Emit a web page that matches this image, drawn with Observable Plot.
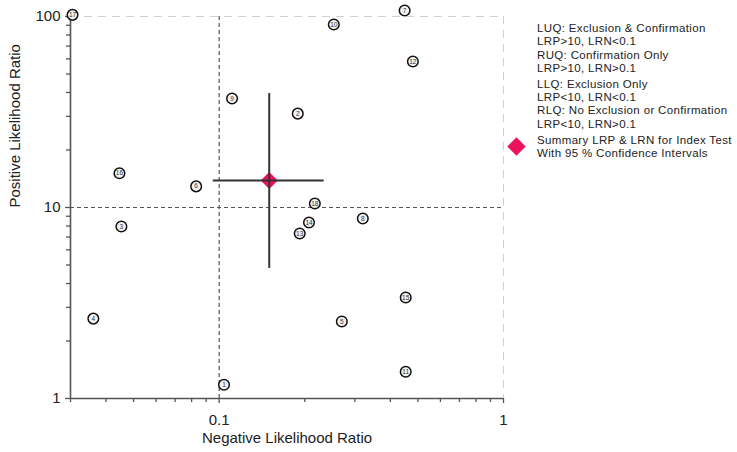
<!DOCTYPE html>
<html><head><meta charset="utf-8">
<script src="https://cdn.jsdelivr.net/npm/d3@7"></script>
<script src="https://cdn.jsdelivr.net/npm/@observablehq/plot@0.6"></script>
<style>
body{margin:0;background:#fff;font-family:"Liberation Sans",Arial,sans-serif;}
#wrap{position:relative;width:737px;height:452px;}
#legend{position:absolute;left:537px;top:22px;font-size:11.5px;line-height:13.3px;letter-spacing:0.35px;color:#222;white-space:nowrap;}
#legend .grp{margin-bottom:2.5px;}
#legend .sum{position:relative;margin-top:3px;}
#legend .dia{position:absolute;left:-27.5px;top:6px;width:13px;height:13px;background:#eb145a;transform:rotate(45deg);}
</style></head><body><div id="wrap"></div>
<script>
const studies = ["17","9","10","7","12","2","16","6","3","18","14","13","8","15","5","4","1","11"];
const lrn = [0.0305,0.111,0.253,0.449,0.480,0.189,0.0446,0.0830,0.0453,0.217,0.207,0.192,0.320,0.453,0.270,0.0361,0.104,0.453];
const lrp = [102,37.2,90.8,107.5,58.1,31.0,15.1,12.9,7.95,10.5,8.35,7.31,8.76,3.38,2.53,2.62,1.18,1.38];
const summaryLRN = 0.150, summaryLRNlo = 0.0953, summaryLRNhi = 0.234;
const summaryLRP = 13.85, summaryLRPlo = 4.80, summaryLRPhi = 39.5;
const xMajor = [0.1, 1];
const xMinor = [0.03,0.04,0.05,0.06,0.07,0.08,0.09,0.2,0.3,0.4,0.5,0.6,0.7,0.8,0.9];
const yMajor = [1, 10, 100];
const yMinor = [2,3,4,5,6,7,8,9,20,30,40,50,60,70,80,90];
const legendLines = [
  ["LUQ: Exclusion & Confirmation","LRP>10, LRN<0.1","RUQ: Confirmation Only","LRP>10, LRN>0.1"],
  ["LLQ: Exclusion Only","LRP<10, LRN<0.1","RLQ: No Exclusion or Confirmation","LRP<10, LRN>0.1"]
];
const summaryLegend = ["Summary LRP & LRN for Index Test","With 95 % Confidence Intervals"];

const data = studies.map((s,i)=>({s, x: lrn[i], y: lrp[i]}));
const summary = [{x: summaryLRN, y: summaryLRP, x1: summaryLRNlo, x2: summaryLRNhi, y1: summaryLRPlo, y2: summaryLRPhi}];
const axisColor = "#555";
const esc = t => t.replace(/&/g,"&amp;").replace(/</g,"&lt;").replace(/>/g,"&gt;");

const chart = Plot.plot({
  width: 737, height: 452,
  marginLeft: 70, marginRight: 234, marginTop: 16, marginBottom: 54,
  style: {fontFamily: '"Liberation Sans", Arial, sans-serif', color: "#222", background: "white", overflow: "visible"},
  x: {type: "log", domain: [0.03, 1], axis: null},
  y: {type: "log", domain: [1, 100], axis: null},
  marks: [
    Plot.ruleY([100], {stroke: "#d0d0d0", strokeDasharray: "8,6"}),
    Plot.ruleX([1], {stroke: "#d0d0d0", strokeDasharray: "8,6"}),
    Plot.ruleX([0.1], {stroke: axisColor, strokeDasharray: "4,3", strokeWidth: 1.2}),
    Plot.ruleY([10], {stroke: axisColor, strokeDasharray: "4,3", strokeWidth: 1.2}),
    Plot.ruleX([0.03], {stroke: axisColor, strokeWidth: 1.6}),
    Plot.ruleY([1], {stroke: axisColor, strokeWidth: 1.6}),
    Plot.axisX(xMajor, {tickFormat: d => d === 1 ? "1" : "0.1", fontSize: 15, tickSize: 5, tickPadding: 11, stroke: axisColor, label: null, strokeWidth: 1.3}),
    Plot.axisX(xMinor, {tickFormat: () => "", tickSize: 4, stroke: axisColor, label: null, strokeWidth: 1.3}),
    Plot.axisY(yMajor, {tickFormat: d => String(d), fontSize: 15, tickSize: 5, tickPadding: 5, stroke: axisColor, label: null, strokeWidth: 1.3}),
    Plot.axisY(yMinor, {tickFormat: () => "", tickSize: 4, stroke: axisColor, label: null, strokeWidth: 1.3}),
    Plot.text(["Negative Likelihood Ratio"], {frameAnchor: "bottom", dy: 44, fontSize: 15, fill: "#222"}),
    Plot.text(["Positive Likelihood Ratio"], {frameAnchor: "left", dx: -55, rotate: -90, fontSize: 15, fill: "#222"}),
    Plot.dot(data, {x: "x", y: "y", r: 5.3, fill: "#f2f2f2", stroke: "#111", strokeWidth: 1.5}),
    Plot.text(data, {x: "x", y: "y", text: "s", fontSize: 6.5, fill: "#333"}),
    Plot.dot(summary, {x: "x", y: "y", symbol: "diamond2", r: 7.7, fill: "#eb145a", stroke: "none"}),
    Plot.ruleY(summary, {y: "y", x1: "x1", x2: "x2", stroke: "#333", strokeWidth: 2}),
    Plot.ruleX(summary, {x: "x", y1: "y1", y2: "y2", stroke: "#333", strokeWidth: 2})
  ]
});
const wrap = document.getElementById("wrap");
wrap.appendChild(chart);
const leg = document.createElement("div");
leg.id = "legend";
legendLines.forEach(g => {
  const d = document.createElement("div");
  d.className = "grp";
  d.innerHTML = g.map(t => `<div>${esc(t)}</div>`).join("");
  leg.appendChild(d);
});
const sm = document.createElement("div");
sm.className = "sum";
sm.innerHTML = `<span class="dia"></span>` + summaryLegend.map(t => `<div>${esc(t)}</div>`).join("");
leg.appendChild(sm);
wrap.appendChild(leg);
</script></body></html>
